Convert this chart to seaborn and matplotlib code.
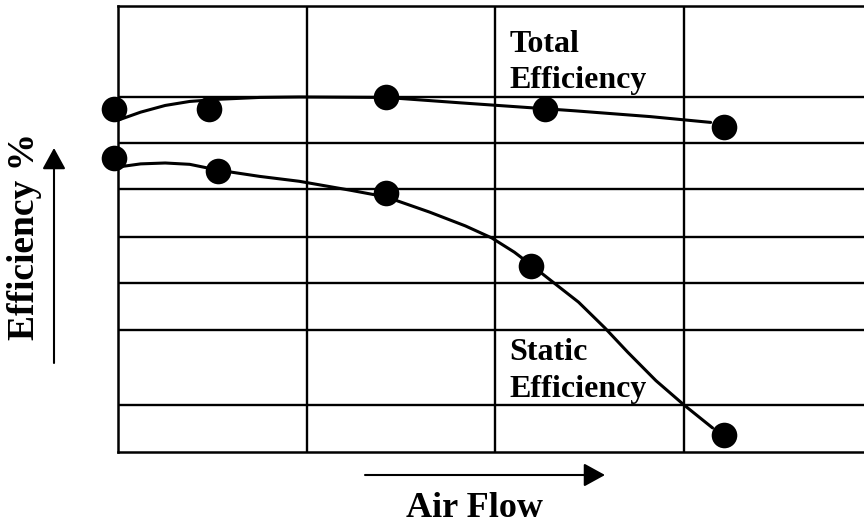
import matplotlib
matplotlib.use("Agg")
import matplotlib.pyplot as plt
import seaborn as sns
import pandas as pd

# points (air flow in grid units, efficiency in %)
total_x = [-0.02, 0.48, 1.42, 2.26, 3.21]
total_y = [76.9, 76.9, 79.6, 76.9, 72.9]
static_x = [-0.02, 0.53, 1.42, 2.19, 3.21]
static_y = [65.9, 63.0, 58.1, 41.7, 3.8]

# the drawn curves
total_curve_x = [0, 0.12, 0.25, 0.38, 0.54, 0.75, 0.96, 1.42, 1.81, 2.42, 2.82, 3.14]
total_curve_y = [74.4, 76.2, 77.7, 78.6, 79.1, 79.5, 79.6, 79.5, 78.3, 76.5, 75.2, 73.9]
static_curve_x = [0, 0.12, 0.25, 0.38, 0.53, 0.75, 0.96, 1.23, 1.42, 1.65, 1.84, 1.98,
                  2.10, 2.19, 2.31, 2.44, 2.58, 2.70, 2.85, 3.0, 3.15]
static_curve_y = [63.9, 64.6, 64.8, 64.5, 63.2, 61.8, 60.7, 58.7, 57.2, 53.8, 50.7, 48.0,
                  44.8, 41.9, 37.9, 33.6, 27.8, 22.4, 16.0, 10.5, 5.4]

grid_x = [1, 2, 3]
grid_y = [10.5, 27.4, 37.9, 48.2, 59.0, 69.3, 79.6]


def main():
    sns.set_style("white")
    plt.rcParams["font.family"] = ["Liberation Serif", "DejaVu Serif"]
    plt.rcParams["text.color"] = "black"

    fig = plt.figure(figsize=(8.64, 5.25), dpi=100)
    # right edge of the box sits just past the picture, like the original
    ax = fig.add_axes([118 / 864, 73 / 525, 755 / 864, 446 / 525])

    curves = pd.DataFrame({"x": total_curve_x + static_curve_x,
                           "y": total_curve_y + static_curve_y,
                           "curve": ["total"] * len(total_curve_x) + ["static"] * len(static_curve_x)})
    pts = pd.DataFrame({"x": total_x + static_x,
                        "y": total_y + static_y,
                        "curve": ["total"] * len(total_x) + ["static"] * len(static_x)})

    sns.lineplot(data=curves, x="x", y="y", units="curve", estimator=None,
                 color="black", lw=2.2, ax=ax, zorder=3)
    sns.scatterplot(data=pts, x="x", y="y", color="black", s=340, linewidth=0,
                    ax=ax, zorder=4, clip_on=False)

    ax.set_xlim(0, 4)
    ax.set_ylim(0, 100)
    ax.set_xticks(grid_x)
    ax.set_yticks(grid_y)
    ax.grid(True, color="black", lw=1.7)
    ax.set_axisbelow(True)
    ax.tick_params(length=0, labelleft=False, labelbottom=False)
    ax.set_xlabel("")
    ax.set_ylabel("")
    for side in ["left", "top", "bottom", "right"]:
        ax.spines[side].set_color("black")
        ax.spines[side].set_linewidth(1.8)

    lab = dict(fontsize=23, fontweight="bold", color="black", va="baseline")
    ax.text(2.074, 89.7, "Total", **lab)
    ax.text(2.074, 81.6, "Efficiency", **lab)
    ax.text(2.074, 20.6, "Static", **lab)
    ax.text(2.074, 12.3, "Efficiency", **lab)

    fig.text(474 / 864, 8 / 525, "Air Flow", fontsize=26, fontweight="bold",
             color="black", ha="center", va="baseline")
    fig.text(25 / 864, 1 - 236 / 525, "Efficiency %", fontsize=27, fontweight="bold",
             color="black", ha="center", va="center", rotation=90)

    arrow = dict(arrowstyle="-|>,head_length=1.0,head_width=0.55", color="black",
                 lw=1.5, mutation_scale=13, shrinkA=0, shrinkB=0)
    ax.annotate("", xy=(605, 50), xytext=(365, 50), xycoords="figure pixels",
                textcoords="figure pixels", arrowprops=arrow, annotation_clip=False)
    ax.annotate("", xy=(54, 377), xytext=(54, 162), xycoords="figure pixels",
                textcoords="figure pixels", arrowprops=arrow, annotation_clip=False)

    fig.savefig("out.png", dpi=100)


main()
